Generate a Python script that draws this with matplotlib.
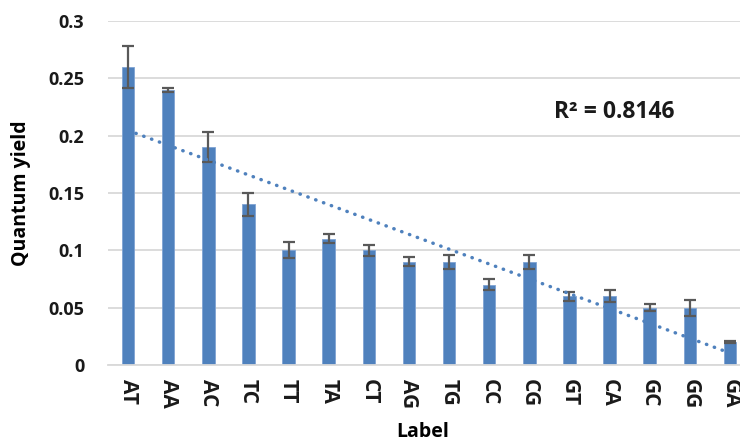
import numpy as np
import matplotlib.pyplot as plt

# Données
labels = ["AT", "AA", "AC", "TC", "TT", "TA", "CT", "AG", "TG", "CC",
          "CG", "GT", "CA", "GC", "GG", "GA"]
rendement = [0.26, 0.24, 0.19, 0.14, 0.10, 0.11, 0.10, 0.09, 0.09, 0.07,
             0.09, 0.06, 0.06, 0.05, 0.05, 0.02]
erreur = [0.018, 0.002, 0.013, 0.010, 0.007, 0.004, 0.005, 0.004, 0.006, 0.005,
          0.006, 0.004, 0.005, 0.003, 0.007, 0.001]

plt.rcParams['font.family'] = ['Open Sans', 'DejaVu Sans']

fig = plt.figure(figsize=(7.4, 4.42), dpi=100)
ax = fig.add_axes([108 / 740, 1 - 365 / 442, 642 / 740, 344 / 442])

x = np.arange(len(labels))
ax.bar(x, rendement, width=0.31, color="#4F81BD", edgecolor="#7FA3D3",
       linewidth=0.6, zorder=2)
ax.errorbar(x, rendement, yerr=erreur, fmt="none", ecolor="#595959",
            elinewidth=1.6, capsize=4.5, capthick=1.6, zorder=3)

# Courbe de tendance linéaire
coef = np.polyfit(x, rendement, 1)
ax.plot(x, np.polyval(coef, x), linestyle=(0, (0.1, 2.3)), color="#4F81BD",
        linewidth=2.5, dash_capstyle="round", zorder=4)
ax.text(10.62, 0.221, "R² = 0.8146", fontsize=16.5, fontweight="bold",
        color="#1a1a1a", va="center", ha="left")

ax.set_xlim(-0.5, len(labels) - 0.5)
ax.set_ylim(0, 0.3)
ax.set_yticks([0, 0.05, 0.1, 0.15, 0.2, 0.25, 0.3])
ax.set_yticklabels(["0", "0.05", "0.1", "0.15", "0.2", "0.25", "0.3"])
ax.set_xticks(x)
ax.set_xticklabels(labels, rotation=-90)
for t in ax.get_yticklabels():
    t.set_fontweight("bold")
    t.set_fontsize(13)
    t.set_color("#1a1a1a")
for t in ax.get_xticklabels():
    t.set_fontweight("bold")
    t.set_fontsize(15)
    t.set_color("#1a1a1a")
ax.tick_params(axis="y", length=0, pad=17)
ax.tick_params(axis="x", length=0, pad=10)
ax.grid(axis="y", color="#D9D9D9", linewidth=1.3, zorder=0)
ax.set_axisbelow(True)
for s in ["top", "right", "left"]:
    ax.spines[s].set_visible(False)
ax.spines["bottom"].set_color("#D9D9D9")
ax.spines["bottom"].set_linewidth(1.3)

ax.set_xlabel("Label", fontsize=14, fontweight="bold")
ax.set_ylabel("Quantum yield", fontsize=14, fontweight="bold")
ax.xaxis.set_label_coords(0.49, -0.167)
ax.yaxis.set_label_coords(-0.12, 0.5)

fig.savefig("out.png", dpi=100)
